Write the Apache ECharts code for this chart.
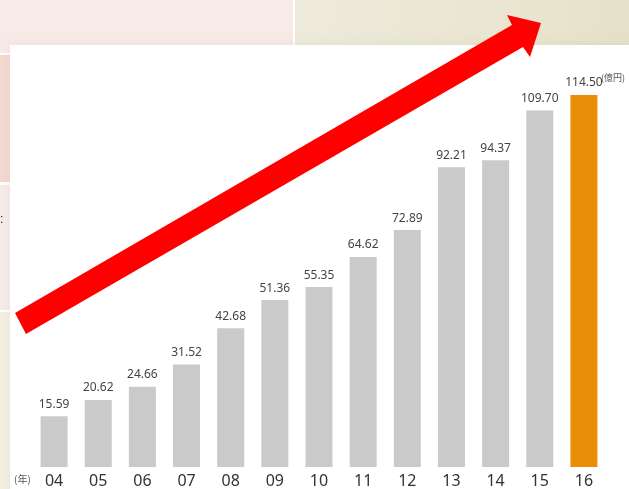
<!DOCTYPE html>
<html>
<head>
<meta charset="utf-8">
<title>chart</title>
<script src="https://cdn.jsdelivr.net/npm/echarts@6/dist/echarts.min.js"></script>
<style>
html, body { margin: 0; padding: 0; background: #fff; }
#chart1 { width: 629px; height: 489px; }
</style>
</head>
<body>
<div id="chart1"></div>
<script>
// 年度
var years = ['04', '05', '06', '07', '08', '09', '10', '11', '12', '13', '14', '15', '16'];
// 金额(億円)
var values = [15.59, 20.62, 24.66, 31.52, 42.68, 51.36, 55.35, 64.62, 72.89, 92.21, 94.37, 109.70, 114.50];
var barColor = '#cacaca';
var lastColor = '#e88f07';

(function() {
	var myChart = echarts.init(document.getElementById('chart1'));

	// 最后一年高亮
	var data = [];
	for (var a = 0; a < values.length; a++) {
		data.push({
			value: values[a],
			itemStyle: { color: a === values.length - 1 ? lastColor : barColor }
		});
	}

	var option = {
		backgroundColor: '#ffffff',
		animation: false,
		grid: { left: 32, right: 23, top: 77, bottom: 20 },
		xAxis: {
			type: 'category',
			data: years,
			axisLine: { show: false },
			axisTick: { show: false },
			axisLabel: {
				margin: 6,
				fontSize: 16,
				color: '#333',
				fontFamily: 'Noto Sans'
			}
		},
		yAxis: {
			type: 'value',
			min: 0,
			max: 120,
			show: false
		},
		series: [{
			type: 'bar',
			barWidth: 27,
			data: data,
			label: {
				show: true,
				position: 'top',
				distance: 6,
				fontSize: 12,
				color: '#444',
				fontFamily: 'Noto Sans',
				formatter: function(p) { return p.value.toFixed(2); }
			}
		}],
		graphic: [
			// 背景色块
			{ type: 'rect', z: -10, shape: { x: 0, y: 0, width: 293, height: 53 }, style: { fill: '#f8ebe7' } },
			{ type: 'rect', z: -10, shape: { x: 295, y: 0, width: 334, height: 45 },
				style: { fill: new echarts.graphic.LinearGradient(0, 0, 1, 0, [
					{ offset: 0, color: '#efebdc' }, { offset: 1, color: '#e6e2c9' }]) } },
			{ type: 'rect', z: -10, shape: { x: 0, y: 55, width: 10, height: 127 }, style: { fill: '#f4d9cf' } },
			{ type: 'rect', z: -10, shape: { x: 0, y: 185, width: 10, height: 125 }, style: { fill: '#f8ece8' } },
			{ type: 'rect', z: -10, shape: { x: 0, y: 312, width: 10, height: 177 }, style: { fill: '#f3f0e3' } },
			{ type: 'rect', z: -9, shape: { x: 10, y: 45, width: 619, height: 444 },
				style: { fill: '#ffffff', shadowColor: 'rgba(0,0,0,0.06)', shadowBlur: 10 } },
			{ type: 'text', z: -8, left: 0, top: 214, style: { text: ':', fill: '#222', fontSize: 12 } },
			// 单位
			{ type: 'text', left: 14, top: 474, style: { text: '(年)', fill: '#555', fontSize: 10, fontFamily: 'Noto Sans CJK JP' } },
			{ type: 'text', left: 601, top: 73, style: { text: '(億円)', fill: '#555', fontSize: 9, fontFamily: 'Noto Sans CJK JP' } },
			// 红色箭头
			{ type: 'polygon', z: 100,
				shape: { points: [[15, 313], [512, 25], [507, 15], [541, 23], [530, 57], [523, 47], [26, 334]] },
				style: { fill: '#ff0000' } }
		]
	};
	myChart.setOption(option);
})();
</script>
</body>
</html>
